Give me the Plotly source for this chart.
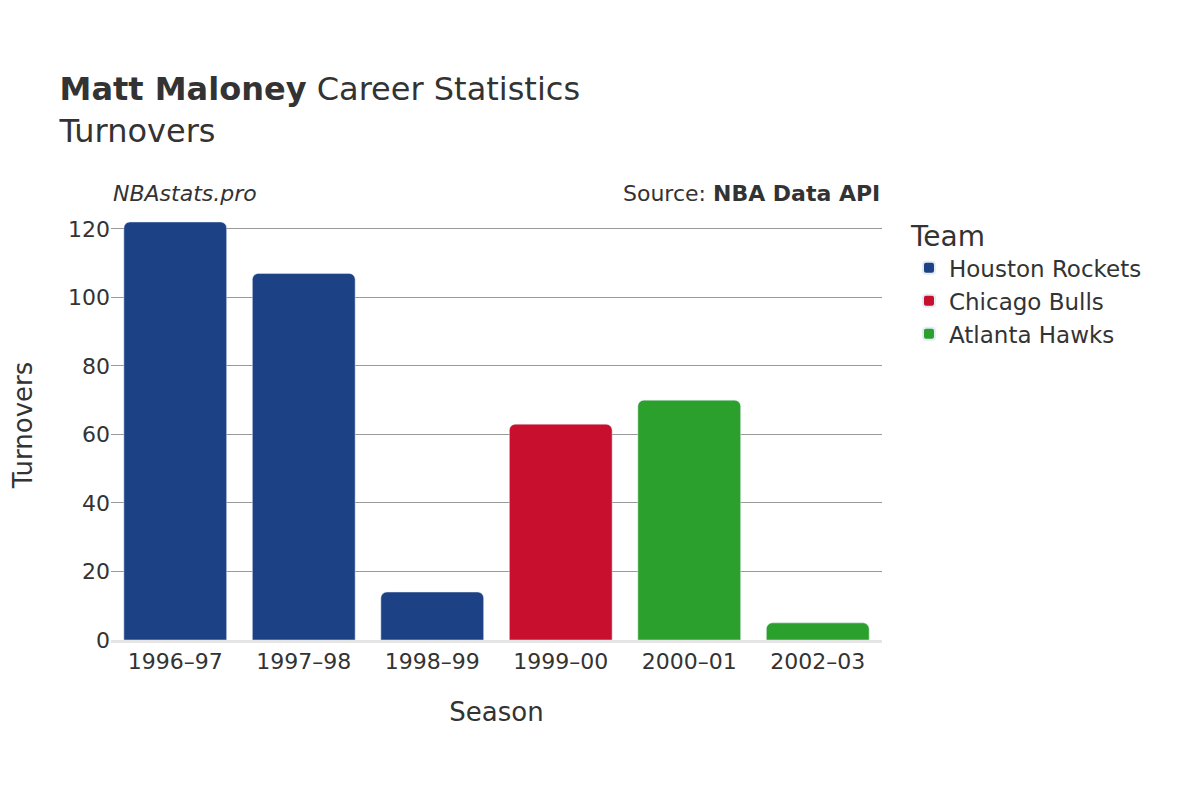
import plotly.graph_objects as go

seasons = ["1996–97", "1997–98", "1998–99", "1999–00", "2000–01", "2002–03"]
turnovers = [122, 107, 14, 63, 70, 5]
teams = ["Houston Rockets", "Houston Rockets", "Houston Rockets", "Chicago Bulls", "Atlanta Hawks", "Atlanta Hawks"]
team_order = ["Houston Rockets", "Chicago Bulls", "Atlanta Hawks"]
team_colors = {"Houston Rockets": "#1c4185", "Chicago Bulls": "#c8102e", "Atlanta Hawks": "#2ca02c"}

fig = go.Figure()
for team in team_order:
    xs = [s for s, t in zip(seasons, teams) if t == team]
    ys = [v for v, t in zip(turnovers, teams) if t == team]
    fig.add_trace(go.Bar(x=xs, y=ys, name=team, marker_color=team_colors[team]))

fig.update_layout(
    width=1200, height=800,
    font=dict(family="DejaVu Sans", size=22, color="#333"),
    paper_bgcolor="white", plot_bgcolor="white",
    title=dict(text="<b>Matt Maloney</b> Career Statistics<br>Turnovers",
               x=0.043, y=0.885, font=dict(size=32)),
    margin=dict(l=100, r=326, t=202, b=168),
    barmode="overlay", bargap=0.2, barcornerradius=6,
    xaxis=dict(title=dict(text="Season", font=dict(size=26), standoff=30),
               categoryorder="array", categoryarray=seasons,
               showline=True, linecolor="#e5e5e5", linewidth=3),
    yaxis=dict(title=dict(text="Turnovers", font=dict(size=26), standoff=30),
               range=[0, 125.5], dtick=20, gridcolor="#999",
               zeroline=False, ticks=""),
    legend=dict(title=dict(text="Team", font=dict(size=28)), x=1.035, y=1.0,
                font=dict(size=23), itemsizing="constant", tracegroupgap=10),
    annotations=[
        dict(text="<i>NBAstats.pro</i>", xref="paper", yref="paper", x=0.0, y=1.005,
             xanchor="left", yanchor="bottom", showarrow=False, font=dict(size=22)),
        dict(text="Source: <b>NBA Data API</b>", xref="paper", yref="paper", x=1.0, y=1.005,
             xanchor="right", yanchor="bottom", showarrow=False, font=dict(size=22)),
    ],
)
fig.write_html("out.html")
